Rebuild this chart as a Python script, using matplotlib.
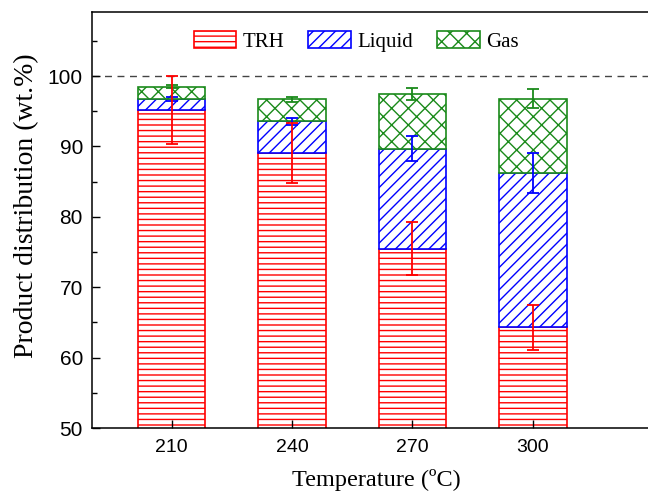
import numpy as np
import matplotlib
matplotlib.use("Agg")
import matplotlib.pyplot as plt

temps = ["210", "240", "270", "300"]
trh = [95.2, 89.1, 75.5, 64.3]
liquid = [1.5, 4.5, 14.2, 21.9]
gas = [1.8, 3.1, 7.7, 10.6]
trh_err = [4.8, 4.3, 3.8, 3.2]
liquid_err = [0.3, 0.5, 1.8, 2.85]
gas_err = [0.25, 0.35, 0.85, 1.3]

red, blue, green = "#ff0000", "#0000ff", "#1a8a1a"
serif = "Liberation Serif"
sans = "Liberation Sans"

fig = plt.figure(figsize=(6.48, 4.92), dpi=100)
ax = fig.add_axes([92 / 648, 64 / 492, (660 - 92) / 648, 416 / 492])

x = np.arange(len(temps))
w = 0.56
liq_bot = np.array(trh)
gas_bot = liq_bot + np.array(liquid)
top = gas_bot + np.array(gas)

ax.bar(x, trh, w, color="white", edgecolor=red, hatch="---", lw=1.2, label="TRH")
ax.bar(x, liquid, w, bottom=liq_bot, color="white", edgecolor=blue, hatch="///", lw=1.2, label="Liquid")
ax.bar(x, gas, w, bottom=gas_bot, color="white", edgecolor=green, hatch="xx", lw=1.2, label="Gas")

ekw = dict(fmt="none", capsize=4, elinewidth=1.3, capthick=1.3, zorder=5)
ax.errorbar(x, gas_bot, yerr=liquid_err, ecolor=blue, **ekw)
ax.errorbar(x, top, yerr=gas_err, ecolor=green, **ekw)
ax.errorbar(x, liq_bot, yerr=trh_err, ecolor=red, **ekw)

ax.axhline(100, color="#444444", lw=1, ls=(0, (5, 4)), zorder=1)

ax.set_ylim(50, 109.1)
ax.set_xlim(-0.662, 4.056)
ax.set_xticks(x)
ax.set_xticklabels(temps, fontfamily=sans, fontsize=14)
ax.set_yticks(np.arange(50, 101, 10))
ax.set_yticks(np.arange(55, 109, 5), minor=True)
for lab in ax.get_yticklabels():
    lab.set_fontfamily(sans)
    lab.set_fontsize(15)
ax.tick_params(direction="in", length=6, width=1)
ax.tick_params(axis="x", pad=8)
ax.tick_params(axis="y", pad=6.5)
ax.tick_params(which="minor", direction="in", length=3.5, width=1)
ax.tick_params(axis="x", which="minor", length=0)
ax.spines["right"].set_visible(False)
for s in ["left", "top", "bottom"]:
    ax.spines[s].set_linewidth(1.1)

ax.set_xlabel("Temperature (ºC)", fontfamily=serif, fontsize=17.5, labelpad=9)
ax.set_ylabel("Product distribution (wt.%)", fontfamily=serif, fontsize=20)
ax.yaxis.set_label_coords(-0.093, 0.534)

ax.legend(loc="center", bbox_to_anchor=(0.465, 0.93), ncol=3, frameon=False,
          prop={"family": serif, "size": 15}, handlelength=2.05, handleheight=0.9,
          handletextpad=0.3, columnspacing=1.15)

fig.savefig("out.png", dpi=100)
